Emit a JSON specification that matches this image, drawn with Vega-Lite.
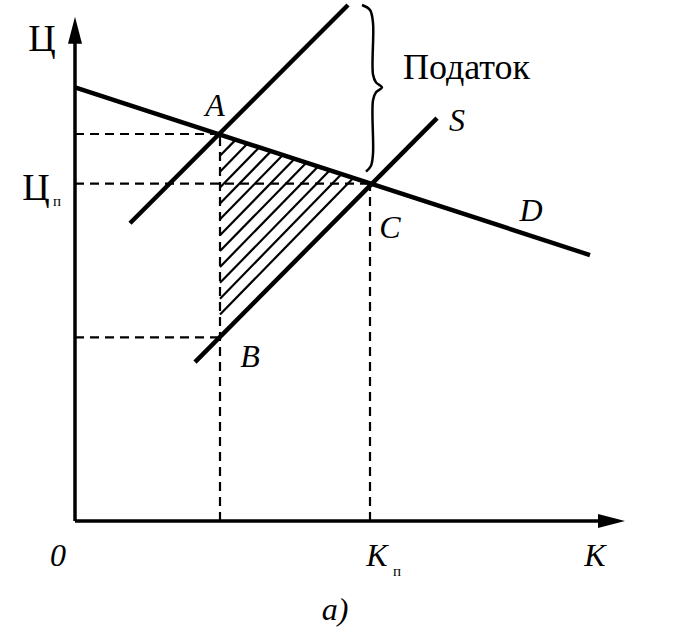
{
  "$schema": "https://vega.github.io/schema/vega-lite/v6.json",
  "width": 687,
  "height": 637,
  "padding": 0,
  "autosize": {"type": "fit", "contains": "padding"},
  "background": "white",
  "config": {"view": {"stroke": null}},
  "datasets": {
    "dashed": [
      {"x": 0, "y": 390, "x2": 145, "y2": 390},
      {"x": 0, "y": 340, "x2": 295, "y2": 340},
      {"x": 0, "y": 185, "x2": 145, "y2": 185},
      {"x": 145, "y": 0, "x2": 145, "y2": 390},
      {"x": 295, "y": 0, "x2": 295, "y2": 340}
    ],
    "hatch": [
      {"x": 145, "y": 368, "x2": 160.8, "y2": 384.3},
      {"x": 145, "y": 352, "x2": 172.5, "y2": 380.4},
      {"x": 145, "y": 336, "x2": 184.3, "y2": 376.6},
      {"x": 145, "y": 320, "x2": 196.1, "y2": 372.7},
      {"x": 145, "y": 304, "x2": 207.8, "y2": 368.8},
      {"x": 145, "y": 288, "x2": 219.6, "y2": 365.0},
      {"x": 145, "y": 272, "x2": 231.3, "y2": 361.1},
      {"x": 145, "y": 256, "x2": 243.1, "y2": 357.3},
      {"x": 145, "y": 240, "x2": 254.8, "y2": 353.4},
      {"x": 145, "y": 224, "x2": 266.6, "y2": 349.6},
      {"x": 145, "y": 208, "x2": 278.3, "y2": 345.7}
    ],
    "curves": [
      {"name": "D", "x": 0, "y": 437, "x2": 515, "y2": 268},
      {"name": "S", "x": 120, "y": 160, "x2": 362, "y2": 406},
      {"name": "S+tax", "x": 55, "y": 300, "x2": 273, "y2": 520}
    ],
    "axes": [
      {"name": "price", "x": 0, "y": 0, "x2": 0, "y2": 495},
      {"name": "quantity", "x": 0, "y": 0, "x2": 530, "y2": 0}
    ],
    "brace": [
      {"i": 0, "x": 287, "y": 520},
      {"i": 1, "x": 295, "y": 515},
      {"i": 2, "x": 298, "y": 502},
      {"i": 3, "x": 298, "y": 450},
      {"i": 4, "x": 301, "y": 442},
      {"i": 5, "x": 307, "y": 437},
      {"i": 6, "x": 301, "y": 432},
      {"i": 7, "x": 298, "y": 424},
      {"i": 8, "x": 298, "y": 370},
      {"i": 9, "x": 296, "y": 358},
      {"i": 10, "x": 291, "y": 352}
    ],
    "italic": [
      {"t": "A", "x": 140, "y": 408},
      {"t": "S", "x": 382, "y": 393},
      {"t": "C", "x": 315, "y": 285},
      {"t": "D", "x": 456, "y": 302},
      {"t": "B", "x": 175, "y": 155},
      {"t": "0", "x": -17, "y": -45},
      {"t": "K", "x": 302, "y": -45},
      {"t": "K", "x": 520, "y": -45},
      {"t": "a)", "x": 260, "y": -100}
    ],
    "upright": [
      {"t": "Ц", "x": -33, "y": 474},
      {"t": "Ц", "x": -39, "y": 323}
    ],
    "subs": [
      {"t": "п", "x": -18, "y": 317},
      {"t": "п", "x": 322, "y": -56}
    ]
  },
  "encoding": {
    "x": {"field": "x", "type": "quantitative", "scale": {"domain": [-75, 612], "nice": false, "zero": false}, "axis": null},
    "y": {"field": "y", "type": "quantitative", "scale": {"domain": [-117, 520], "nice": false, "zero": false}, "axis": null}
  },
  "layer": [
    {
      "data": {"name": "dashed"},
      "mark": {"type": "rule", "color": "black", "strokeWidth": 2.2, "strokeDash": [9, 6]},
      "encoding": {"x2": {"field": "x2"}, "y2": {"field": "y2"}}
    },
    {
      "data": {"name": "hatch"},
      "mark": {"type": "rule", "color": "black", "strokeWidth": 2.2},
      "encoding": {"x2": {"field": "x2"}, "y2": {"field": "y2"}}
    },
    {
      "data": {"name": "curves"},
      "mark": {"type": "rule", "color": "black", "strokeWidth": 4.5},
      "encoding": {"x2": {"field": "x2"}, "y2": {"field": "y2"}}
    },
    {
      "data": {"name": "axes"},
      "mark": {"type": "rule", "color": "black", "strokeWidth": 3.5},
      "encoding": {"x2": {"field": "x2"}, "y2": {"field": "y2"}}
    },
    {
      "data": {"values": [{"x": 0, "y": 494.5}]},
      "mark": {"type": "point", "shape": "M0,-1L0.52,1L-0.52,1Z", "size": 729, "filled": true, "color": "black", "opacity": 1}
    },
    {
      "data": {"values": [{"x": 536.5, "y": 0}]},
      "mark": {"type": "point", "shape": "M1,0L-1,0.52L-1,-0.52Z", "size": 729, "filled": true, "color": "black", "opacity": 1}
    },
    {
      "data": {"name": "brace"},
      "mark": {"type": "line", "color": "black", "strokeWidth": 2.5, "interpolate": "catmull-rom"},
      "encoding": {"order": {"field": "i", "type": "quantitative"}}
    },
    {
      "data": {"name": "italic"},
      "mark": {"type": "text", "font": "Liberation Serif", "fontStyle": "italic", "fontSize": 32, "align": "center", "baseline": "alphabetic", "color": "black"},
      "encoding": {"text": {"field": "t"}}
    },
    {
      "data": {"name": "upright"},
      "mark": {"type": "text", "font": "Liberation Serif", "fontSize": 38, "align": "center", "baseline": "alphabetic", "color": "black"},
      "encoding": {"text": {"field": "t"}}
    },
    {
      "data": {"name": "subs"},
      "mark": {"type": "text", "font": "Liberation Serif", "fontSize": 15, "align": "center", "baseline": "alphabetic", "color": "black"},
      "encoding": {"text": {"field": "t"}}
    },
    {
      "data": {"values": [{"t": "Податок", "x": 328, "y": 445}]},
      "mark": {"type": "text", "font": "Liberation Serif", "fontSize": 36, "align": "left", "baseline": "alphabetic", "color": "black"},
      "encoding": {"text": {"field": "t"}}
    }
  ]
}
